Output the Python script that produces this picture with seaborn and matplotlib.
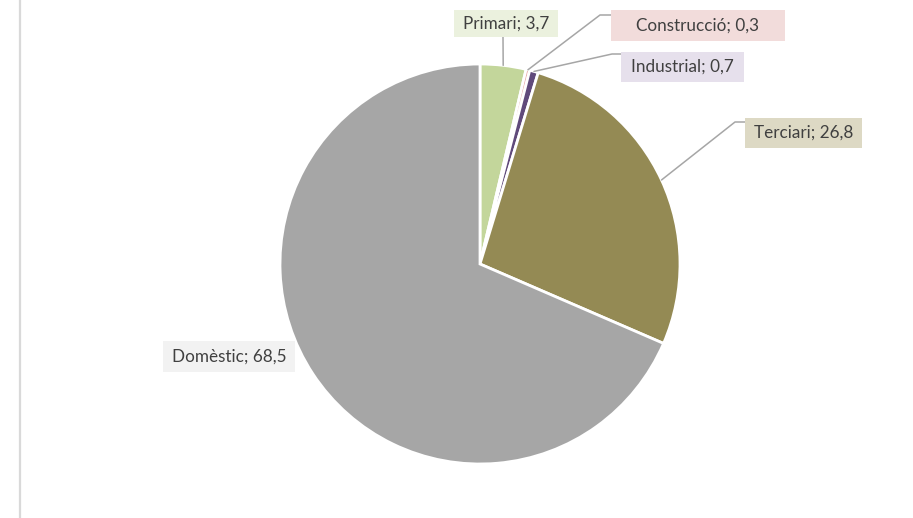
import matplotlib
matplotlib.use("Agg")
import numpy as np
import seaborn as sns
import matplotlib.pyplot as plt
from matplotlib.patches import Rectangle

# data
sectors = ["Primari", "Construcció", "Industrial", "Terciari", "Domèstic"]
values = [3.7, 0.3, 0.7, 26.8, 68.5]
slice_colors = ["#C3D69B", "#E6A6A4", "#604A7B", "#948A54", "#A6A6A6"]
box_colors = ["#EBF1DE", "#F2DCDB", "#E6E0EC", "#DDD9C4", "#F2F2F2"]

sns.set_theme(style="white")
plt.rcParams["font.family"] = ["Lato", "DejaVu Sans"]

W, H = 913, 518
fig = plt.figure(figsize=(W / 100, H / 100), dpi=100)
ax = fig.add_axes([0, 0, 1, 1])
ax.set_xlim(0, W)
ax.set_ylim(0, H)
ax.set_aspect("equal")
ax.axis("off")


def py(y):
    # pixel row (from top) -> data y
    return H - y


cx, cy, r = 480, 264, 200
ax.pie(values, colors=slice_colors, startangle=90, counterclock=False,
       center=(cx, py(cy)), radius=r,
       wedgeprops=dict(edgecolor="white", linewidth=2))
ax.set_xlim(0, W)
ax.set_ylim(0, H)

# label boxes: (x0, y0, x1, y1) in pixels, and leader elbow/end
boxes = [(454, 10, 558, 37), (611, 10, 785, 41), (621, 52, 744, 82),
         (745, 118, 862, 148), (163, 341, 295, 372)]
leaders = [[(503, 37)], [(600, 15), (611, 15)], [(612, 54), (621, 54)],
           [(735, 122), (745, 122)], None]

total = sum(values)
start = 0.0
for name, v, bc, box, lead in zip(sectors, values, box_colors, boxes, leaders):
    mid = np.radians((start + v / 2) / total * 360)
    start += v
    x0, y0, x1, y1 = box
    ax.add_patch(Rectangle((x0, py(y1)), x1 - x0, y1 - y0,
                           facecolor=bc, edgecolor="none", zorder=3))
    label = f"{name}; {v:.1f}".replace(".", ",")
    ax.text((x0 + x1) / 2, py((y0 + y1) / 2), label, ha="center", va="center",
            fontsize=12.3, color="#404040", zorder=4)
    if lead:
        ex = cx + r * np.sin(mid)
        ey = cy - r * np.cos(mid)
        pts = [(ex, ey)] + lead
        ax.plot([p[0] for p in pts], [py(p[1]) for p in pts],
                color="#A6A6A6", linewidth=1.1, zorder=2)

# left border line
ax.plot([19.5, 19.5], [0, H], color="#D9D9D9", linewidth=1.6)

fig.savefig("out.png", dpi=100)
